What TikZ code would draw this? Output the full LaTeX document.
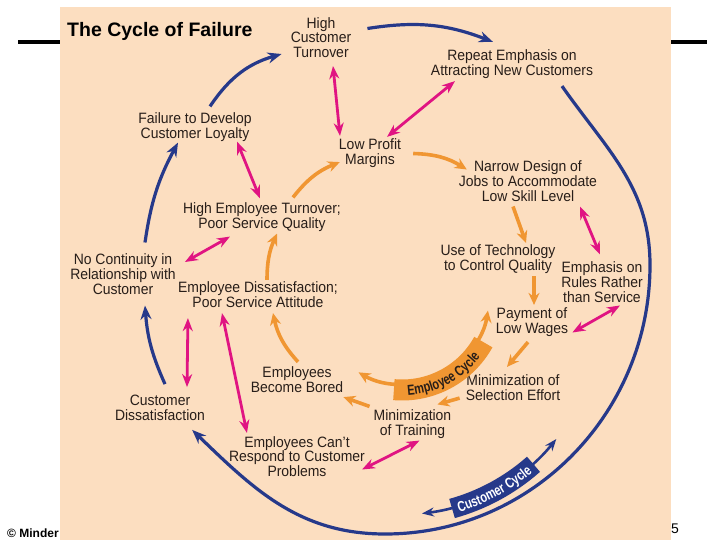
\documentclass[tikz,border=0pt]{standalone}
\usepackage{fontspec}
\setmainfont{Liberation Sans}
\newfontfamily\condfont{Liberation Sans}[FakeStretch=0.93]
\newfontfamily\bandfont{Liberation Sans}[FakeStretch=0.76]
\usetikzlibrary{arrows.meta,decorations.text}
\definecolor{peach}{RGB}{252,222,192}
\definecolor{custblue}{RGB}{38,57,138}
\definecolor{linkpink}{RGB}{224,20,130}
\definecolor{emporange}{RGB}{240,150,50}
\definecolor{ink}{RGB}{40,30,25}
\begin{document}
\begin{tikzpicture}[x=1pt,y=1pt,
  lbl/.style={align=center,inner sep=1pt,text=ink,font=\condfont\fontsize{15}{14.8}\selectfont},
  cust/.style={draw=custblue,line width=3.2pt,-{Stealth[length=14pt,width=11pt]}},
  custboth/.style={draw=custblue,line width=2.6pt,{Stealth[length=12pt,width=9pt]}-{Stealth[length=12pt,width=9pt]}},
  link/.style={draw=linkpink,line width=2.8pt,{Stealth[length=13pt,width=10pt]}-{Stealth[length=13pt,width=10pt]}},
  emp/.style={draw=emporange,line width=3.6pt,-{Stealth[length=12pt,width=11pt]}},
  empboth/.style={draw=emporange,line width=3.6pt,{Stealth[length=12pt,width=11pt]}-{Stealth[length=12pt,width=11pt]}},
]
\useasboundingbox (0,0) rectangle (720,-540);
\fill[peach] (60,-7) rectangle (671,-540);
\draw[line width=4pt] (18,-42) -- (60,-42);
\draw[line width=4pt] (671,-42) -- (707,-42);
\node[anchor=base west,inner sep=0,font=\bfseries\fontsize{19.5}{20}\selectfont] at (67,-36.5) (title) {The Cycle of Failure};
\node[anchor=base west,inner sep=0,font=\bfseries\fontsize{12}{12}\selectfont] at (7,-537.5) (credit) {© Minder};
\node[anchor=base west,inner sep=0,font=\fontsize{14}{14}\selectfont] at (671,-533) (pageno) {5};

\node[lbl] at (321,-37.5) (hct) {High\\Customer\\Turnover};
\node[lbl] at (512,-64.5) (rep) {Repeat Emphasis on\\Attracting New Customers};
\node[lbl] at (195,-127) (ftd) {Failure to Develop\\Customer Loyalty};
\node[lbl] at (370,-153.5) (lpm) {Low Profit\\Margins};
\node[lbl] at (528,-181) (nd) {Narrow Design of\\Jobs to Accommodate\\Low Skill Level};
\node[lbl] at (262,-217) (het) {High Employee Turnover;\\Poor Service Quality};
\node[lbl] at (123,-274) (nc) {No Continuity in\\Relationship with\\Customer};
\node[lbl] at (498,-259.5) (ut) {Use of Technology\\to Control Quality};
\node[lbl] at (258,-295) (ed) {Employee Dissatisfaction;\\Poor Service Attitude};
\node[lbl] at (602,-282) (er) {Emphasis on\\Rules Rather\\than Service};
\node[lbl] at (532,-322.5) (pw) {Payment of\\Low Wages};
\node[lbl] at (297,-380) (eb) {Employees\\Become Bored};
\node[lbl] at (513,-388) (ms) {Minimization of\\Selection Effort};
\node[lbl] at (412.5,-424) (mt) {Minimization\\of Training};
\node[lbl] at (160,-408) (cd) {Customer\\Dissatisfaction};
\node[lbl] at (297,-456.5) (ecr) {Employees Can’t\\Respond to Customer\\Problems};

% customer cycle
\coordinate (rim) at (650,-265);
\coordinate (base) at (385,-534);
\draw[cust] ([xshift=15pt,yshift=5pt]ftd.north) to[bend left=20] ([xshift=-8pt,yshift=5pt]hct.south west);
\draw[cust] ([xshift=15pt,yshift=9pt]hct.east) to[bend left=15] ([xshift=-19pt,yshift=7pt]rep.north);
\draw[cust] ([xshift=50pt,yshift=-6pt]rep.south) to[out=-55,in=90] (rim) to[out=-90,in=0] (base) to[out=180,in=-44] ([xshift=-14pt,yshift=-8pt]cd.south east);
\draw[cust] ([xshift=5pt,yshift=10pt]cd.north) to[bend left=10] ([xshift=22pt,yshift=-10pt]nc.south);
\draw[cust] ([xshift=22pt,yshift=10pt]nc.north) to[bend left=10] ([xshift=-17pt]ftd.south);

% links between the cycles
\draw[link] ([xshift=12pt,yshift=-7pt]hct.south) -- ([xshift=-30pt,yshift=2pt]lpm.north);
\draw[link] ([xshift=-57pt,yshift=-1pt]rep.south) -- ([xshift=17pt,yshift=1pt]lpm.north);
\draw[link] ([xshift=42pt,yshift=1pt]ftd.south) -- ([xshift=-2pt,yshift=3pt]het.north);
\draw[link] ([xshift=8pt,yshift=12pt]nc.east) -- ([xshift=-32pt,yshift=-4pt]het.south);
\draw[link] ([xshift=52pt,yshift=-4pt]nd.south) -- ([xshift=-2pt,yshift=6pt]er.north);
\draw[link] ([xshift=18pt,yshift=-2pt]er.south) -- ([xshift=3pt,yshift=-10pt]pw.east);
\draw[link] ([xshift=11pt,yshift=-9pt]ed.south west) -- ([xshift=27pt,yshift=7pt]cd.north);
\draw[link] ([xshift=-36pt,yshift=-4pt]ed.south) -- ([xshift=19pt,yshift=2pt]ecr.north west);
\draw[link] ([xshift=-4pt,yshift=-13pt]ecr.east) -- ([xshift=7pt,yshift=-1pt]mt.south);

% employee cycle
\draw[emp] ([xshift=1pt,yshift=4pt]eb.north) to[bend left=15] ([xshift=15pt,yshift=-4pt]ed.south);
\draw[emp] ([xshift=-3pt,yshift=2pt]mt.north west) -- ([xshift=-1pt,yshift=-3pt]eb.south east);
\draw[emp] ([xshift=-5pt,yshift=4pt]ms.south west) -- ([xshift=-15pt,yshift=4pt]mt.north east);
\draw[emp] ([xshift=-4pt,yshift=-4pt]pw.south) -- ([xshift=-6pt,yshift=7pt]ms.north);
\draw[emp] ([xshift=36pt,yshift=-1pt]ut.south) -- ([xshift=2pt,yshift=2pt]pw.north);
\draw[emp] ([xshift=-15pt,yshift=-4pt]nd.south) -- ([xshift=28pt,yshift=1pt]ut.north);
\draw[emp] ([xshift=11pt]lpm.east) to[bend left=15] ([xshift=9pt,yshift=-10pt]nd.north west);
\draw[emp] ([xshift=31pt,yshift=4pt]het.north) to[bend left=15] ([xshift=2pt,yshift=7pt]lpm.south west);
\draw[emp] ([xshift=9pt,yshift=1pt]ed.north) to[bend left=12] ([xshift=15pt,yshift=-1pt]het.south);

% cycle labels
\coordinate (ecyc) at (402,-297);
\draw[empboth] ([shift={(-120:87)}]ecyc) arc[start angle=-120,end angle=-9,radius=87];
\draw[emporange,line width=21pt] ([shift={(-95:93)}]ecyc) arc[start angle=-95,end angle=-29,radius=93];
\path[decorate,decoration={text along path,text align=center,text color=ink,
  text={|\bandfont\bfseries\fontsize{14.5}{14.5}\selectfont|Employee Cycle}}]
  ([shift={(-95:98.5)}]ecyc) arc[start angle=-95,end angle=-29,radius=98.5];

\coordinate (ccyc) at (397,-310);
\draw[custboth] ([shift={(-83:205)}]ccyc) arc[start angle=-83,end angle=-39,radius=205];
\draw[custblue,line width=20pt] ([shift={(-74.5:206)}]ccyc) arc[start angle=-74.5,end angle=-48.5,radius=206];
\path[decorate,decoration={text along path,text align=center,text color=white,
  text={|\bandfont\bfseries\fontsize{14.5}{14.5}\selectfont|Customer Cycle}}]
  ([shift={(-74.5:211.5)}]ccyc) arc[start angle=-74.5,end angle=-48.5,radius=211.5];
\end{tikzpicture}
\end{document}
